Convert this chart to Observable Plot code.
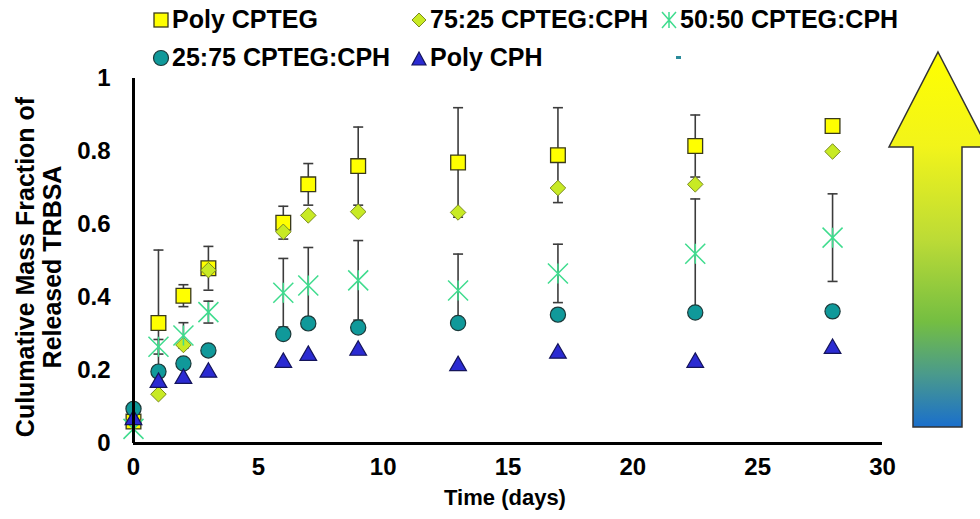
<!DOCTYPE html>
<html>
<head>
<meta charset="utf-8">
<script src="https://cdn.jsdelivr.net/npm/d3@7"></script>
<script src="https://cdn.jsdelivr.net/npm/@observablehq/plot@0.6"></script>
<style>
  html, body { margin: 0; padding: 0; background: #fff; }
  #wrap { position: relative; width: 980px; height: 519px; overflow: hidden; font-family: "Liberation Sans", Arial, sans-serif; }
  #legend { position: absolute; left: 0; top: 0; width: 980px; height: 78px; }
  .item { position: absolute; display: flex; align-items: center; font-weight: bold; font-size: 25px; color: #000; white-space: nowrap; line-height: 1; }
  .item svg { margin-right: 2px; }
  #arrow { position: absolute; left: 0; top: 0; pointer-events: none; }
</style>
</head>
<body>
<div id="wrap">
  <div id="chart"></div>
  <div id="legend"></div>
</div>
<script>
// ---- data ----
const days = [0, 1, 2, 3, 6, 7, 9, 13, 17, 22.5, 28];
const seriesNames = ["Poly CPTEG", "75:25 CPTEG:CPH", "50:50 CPTEG:CPH", "25:75 CPTEG:CPH", "Poly CPH"];
const polyCPTEG    = [0.06, 0.33, 0.405, 0.48, 0.605, 0.71, 0.76, 0.77, 0.79, 0.815, 0.87];
const polyCPTEGErr = [0, 0.20, 0.03, 0.06, 0.045, 0.057, 0.107, 0.15, 0.13, 0.085, 0];
const cpteg7525    = [0.06, 0.135, 0.27, 0.475, 0.58, 0.625, 0.635, 0.633, 0.70, 0.71, 0.80];
const cpteg5050    = [0.04, 0.265, 0.296, 0.36, 0.413, 0.433, 0.447, 0.419, 0.466, 0.52, 0.564];
const cpteg5050Err = [0, 0.02, 0.035, 0.03, 0.094, 0.104, 0.109, 0.10, 0.08, 0.15, 0.12];
const cpteg2575    = [0.095, 0.197, 0.219, 0.255, 0.30, 0.329, 0.318, 0.33, 0.353, 0.359, 0.362];
const polyCPH      = [0.065, 0.167, 0.178, 0.195, 0.222, 0.241, 0.255, 0.213, 0.247, 0.222, 0.26];
const yTicks = [0, 0.2, 0.4, 0.6, 0.8, 1];
const xTicks = [0, 5, 10, 15, 20, 25, 30];

// ---- build tables ----
const values = [polyCPTEG, cpteg7525, cpteg5050, cpteg2575, polyCPH];
const errors = [polyCPTEGErr, null, cpteg5050Err, null, null];
const points = [];
values.forEach((vals, s) => vals.forEach((v, i) => points.push({series: seriesNames[s], day: days[i], value: v})));
const bars = [];
errors.forEach((errs, s) => { if (errs) errs.forEach((e, i) => { if (e > 0) bars.push({series: seriesNames[s], day: days[i], lo: values[s][i] - e, hi: values[s][i] + e}); }); });
const caps = bars.flatMap(b => [{day: b.day, y: b.lo}, {day: b.day, y: b.hi}]);
const pick = name => points.filter(p => p.series === name);

// custom symbols
const starSym = {draw(ctx, size) { const a = Math.sqrt(size / Math.PI); ctx.moveTo(-a, -a); ctx.lineTo(a, a); ctx.moveTo(-a, a); ctx.lineTo(a, -a); ctx.moveTo(0, -a); ctx.lineTo(0, a); }};
const capSym = {draw(ctx, size) { const a = Math.sqrt(size / Math.PI); ctx.moveTo(-a, 0); ctx.lineTo(a, 0); }};

const styles = [
  {symbol: "square",   r: 8.3, fill: "#ffff00", stroke: "#3a3a1a", strokeWidth: 1.3},
  {symbol: "diamond2", r: 7,   fill: "#c8ea24", stroke: "#7a8a20", strokeWidth: 1},
  {symbol: starSym,    r: 10,  fill: "none",    stroke: "#3fdc8e", strokeWidth: 1.5},
  {symbol: "circle",   r: 7.6, fill: "#10999a", stroke: "#1c3838", strokeWidth: 1.2},
  {symbol: "triangle", r: 6.2, fill: "#2b2bd2", stroke: "#14145a", strokeWidth: 1.2}
];

const chart = Plot.plot({
  width: 980,
  height: 519,
  marginTop: 78,
  marginBottom: 76,
  marginLeft: 133,
  marginRight: 98,
  style: {fontFamily: "'Liberation Sans', Arial, sans-serif", fontSize: "24px", fontWeight: "bold", color: "#000", background: "transparent", overflow: "visible"},
  x: {domain: [0, 30]},
  y: {domain: [0, 1]},
  marks: [
    Plot.axisX({ticks: xTicks, tickSize: 0, tickPadding: 14, label: null, fontSize: 24, fontWeight: "bold"}),
    Plot.axisY({ticks: yTicks, tickSize: 0, tickPadding: 23, label: null, fontSize: 24, fontWeight: "bold",
                tickFormat: d => String(+d.toFixed(1))}),
    Plot.text(["Time (days)"], {frameAnchor: "bottom", dy: 61, dx: -3, fontSize: 22, fontWeight: "bold", fill: "#000"}),
    Plot.text(["Culumative Mass Fraction of\nReleased TRBSA"], {frameAnchor: "left", textAnchor: "middle", dx: -95, dy: 6, rotate: -90, lineHeight: 1.08, fontSize: 25, fontWeight: "bold", fill: "#000"}),
    Plot.ruleX(bars, {x: "day", y1: "lo", y2: "hi", stroke: "#3c3c3c", strokeWidth: 1.6}),
    Plot.dot(caps, {x: "day", y: "y", symbol: capSym, r: 5, stroke: "#3c3c3c", strokeWidth: 1.6}),
    ...seriesNames.map((name, s) => Plot.dot(pick(name), {x: "day", y: "value", ...styles[s]})),
    Plot.ruleY([0], {stroke: "#000", strokeWidth: 3}),
    Plot.ruleX([0], {stroke: "#000", strokeWidth: 3})
  ]
});
document.getElementById("chart").appendChild(chart);

// ---- legend ----
const legendPos = [[152, 20], [410, 20], [660, 20], [152, 58], [410, 58]];
function icon(s) {
  const st = styles[s];
  let shape = "";
  if (s === 0) shape = `<rect x="2" y="2" width="14" height="14" fill="${st.fill}" stroke="${st.stroke}" stroke-width="1.3"/>`;
  if (s === 1) shape = `<path d="M9,2 L16,9 L9,16 L2,9Z" fill="${st.fill}" stroke="${st.stroke}"/>`;
  if (s === 2) shape = `<path d="M2,1 L16,17 M2,17 L16,1 M9,1 L9,17" stroke="${st.stroke}" stroke-width="1.5" fill="none"/>`;
  if (s === 3) shape = `<circle cx="9" cy="9" r="7.5" fill="${st.fill}" stroke="${st.stroke}" stroke-width="1.2"/>`;
  if (s === 4) shape = `<path d="M9,3 L16,16 L2,16Z" fill="${st.fill}" stroke="${st.stroke}" stroke-width="1.2"/>`;
  return `<svg width="18" height="18" viewBox="0 0 18 18">${shape}</svg>`;
}
const legend = document.getElementById("legend");
seriesNames.forEach((name, s) => {
  const d = document.createElement("div");
  d.className = "item";
  d.style.left = legendPos[s][0] + "px";
  d.style.top = (legendPos[s][1] - 13) + "px";
  d.innerHTML = icon(s) + `<span>${name}</span>`;
  legend.appendChild(d);
});
const dash = document.createElement("div");
dash.style.cssText = "position:absolute;left:676px;top:56px;width:5px;height:3px;background:#2a8a9a;";
legend.appendChild(dash);

// ---- decorative gradient arrow ----
const ns = "http://www.w3.org/2000/svg";
const arr = document.createElementNS(ns, "svg");
arr.setAttribute("id", "arrow");
arr.setAttribute("width", 980);
arr.setAttribute("height", 519);
arr.innerHTML = `
  <defs>
    <linearGradient id="ag" x1="0" y1="0" x2="0" y2="1">
      <stop offset="0" stop-color="#ffff00"/>
      <stop offset="0.25" stop-color="#f2f41a"/>
      <stop offset="0.5" stop-color="#bcdb36"/>
      <stop offset="0.72" stop-color="#74be42"/>
      <stop offset="0.86" stop-color="#4a9a8c"/>
      <stop offset="1" stop-color="#1a6fcc"/>
    </linearGradient>
  </defs>
  <path d="M938,52 L987,147 L962,147 L962,427 L913,427 L913,147 L889,147 Z" fill="url(#ag)" stroke="#333" stroke-width="1.5" stroke-linejoin="miter"/>`;
document.getElementById("wrap").appendChild(arr);
</script>
</body>
</html>
